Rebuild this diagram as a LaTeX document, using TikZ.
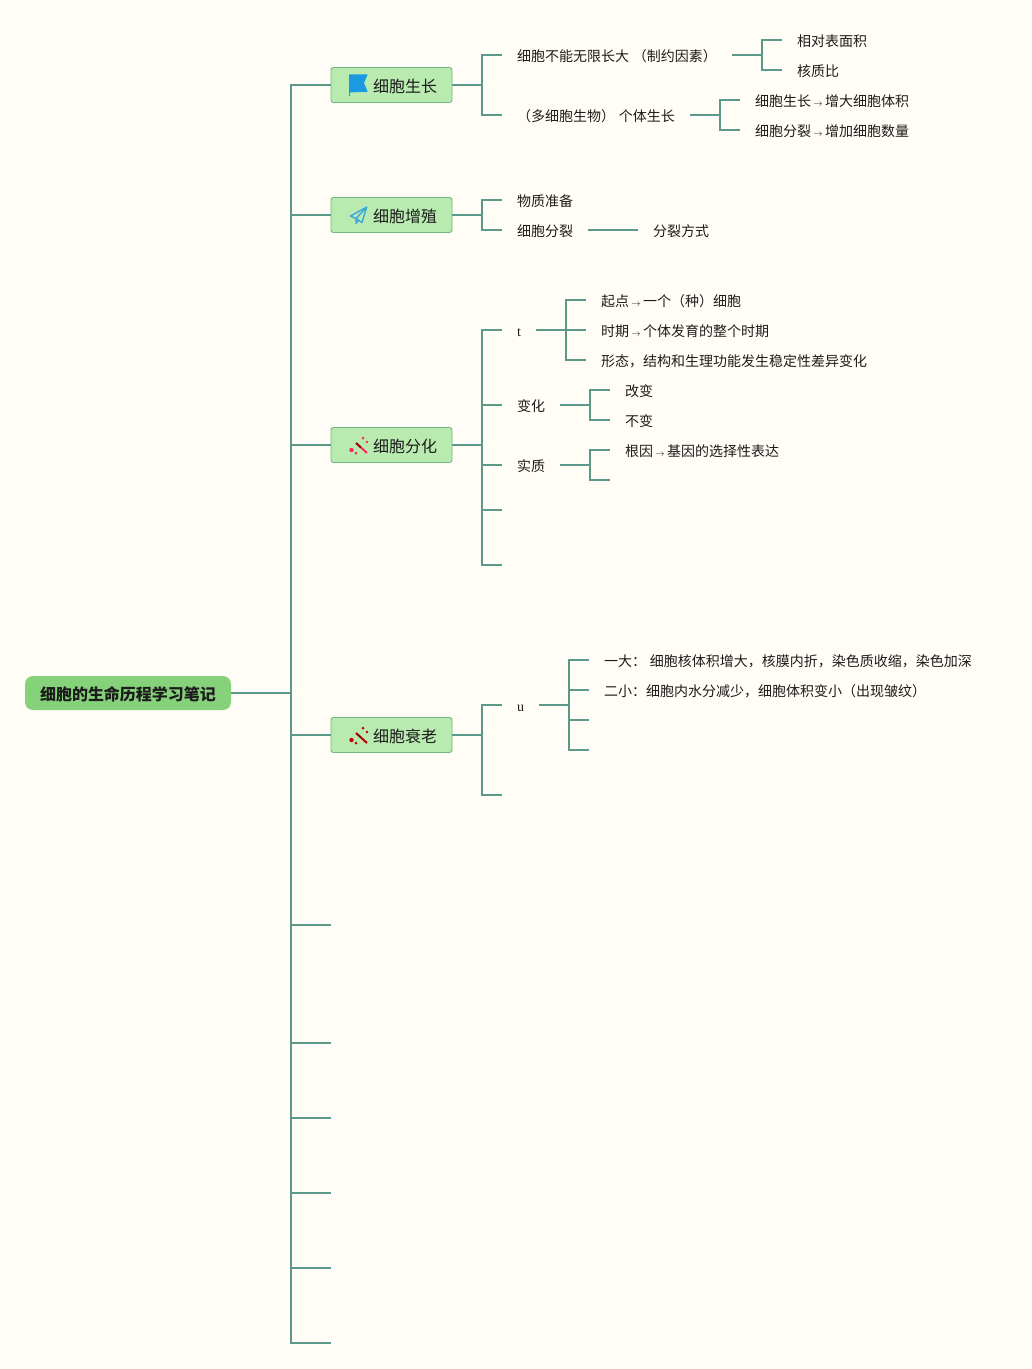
\documentclass[tikz,border=0pt]{standalone}
\usepackage{fontspec}
\setmainfont{Noto Sans CJK SC}
\newfontfamily\latinfont{Liberation Serif}
\usepackage{xcolor}
\usepackage{tikz}
\usetikzlibrary{positioning}
\definecolor{paper}{HTML}{FFFDF5}
\definecolor{linkgreen}{HTML}{5B9A8B}
\definecolor{rootgreen}{HTML}{86D27A}
\definecolor{boxgreen}{HTML}{B9EBB0}
\definecolor{boxline}{HTML}{72B585}
\definecolor{inkgrey}{HTML}{1C1C1C}
\definecolor{flagblue}{HTML}{1A9AE0}
\definecolor{planeblue}{HTML}{3CA6D8}
\newcommand{\toarrow}{\makebox[14pt]{\fontsize{9.5}{9.5}\selectfont$\rightarrow$}}
\newcommand{\wandicon}[3]{%
  \begin{scope}[shift={#1}]
    \draw [#3, line width=2pt] (6,6) -- (11,10.5);
    \draw [#2, line width=2pt] (11,10.5) -- (17,16);
    \fill [#2] (1.5,13) circle (2.2pt);
    \fill [#2] (6,16) circle (1.5pt);
    \fill [#2] (13,1) circle (1.5pt);
    \fill [#2] (17,5) circle (1.3pt);
  \end{scope}}
\tikzset {
  x=1pt, y=-1pt,
  % the connecting lines
  link/.style={linkgreen, line width=2.2pt},
  fork/.style={to path={-- ++(#1,0) |- (\tikztotarget)}},
  fork/.default=30,
  % centre of the map
  root/.style={fill=rootgreen, rounded corners=8pt, minimum width=206pt, minimum height=34pt,
    inner sep=0pt, outer sep=0pt, text=inkgrey, text height=16pt, text depth=1.8pt,
    font=\fontsize{16}{16}\selectfont\bfseries},
  % first level boxes, text pushed right of the icon
  branch/.style={draw=boxline, fill=boxgreen, line width=0.9pt, rounded corners=2.5pt,
    minimum width=121pt, minimum height=35pt, inner sep=0pt, outer sep=0pt, text=inkgrey,
    text height=16pt, text depth=1.8pt,
    font=\fontsize{16}{16}\selectfont, execute at begin node=\hspace*{27pt}},
  % plain text, 15 free on both sides for the lines
  leaf/.style={anchor=west, inner ysep=0pt, inner xsep=0pt, outer xsep=15pt, outer ysep=0pt,
    text height=14pt, text depth=1.4pt, text=inkgrey, font=\fontsize{14}{14}\selectfont},
}
\begin{document}
\begin{tikzpicture}
        \useasboundingbox (0,0) rectangle (1032,1369);
        \fill [paper] (0,0) rectangle (1032,1369);

        \node[root] (root) at (128,693) {细胞的生命历程学习笔记};
        \node[branch] (growth) at (391.5,85) {细胞生长};
        \node[branch] (prolif) at (391.5,215) {细胞增殖};
        \node[branch] (differ) at (391.5,445) {细胞分化};
        \node[branch] (aging) at (391.5,735) {细胞衰老};

        % empty ends of the trunk
        \coordinate (e1) at (331,925);
        \coordinate (e2) at (331,1043);
        \coordinate (e3) at (331,1118);
        \coordinate (e4) at (331,1193);
        \coordinate (e5) at (331,1268);
        \coordinate (e6) at (331,1343);

        \foreach \t in {growth.west, prolif.west, differ.west, aging.west, e1, e2, e3, e4, e5, e6}
          \draw [link] (root.east) to[fork=60] (\t);

        % growth
        \node[leaf] (g1) at (502,55) {细胞不能无限长大\hspace{4pt}（制约因素）};
        \node[leaf] (g2) at (502,115) {（多细胞生物）\hspace{4pt}个体生长};
        \node[leaf] (g11) at (782,40) {相对表面积};
        \node[leaf] (g12) at (782,70) {核质比};
        \node[leaf] (g21) at (740,100) {细胞生长\toarrow 增大细胞体积};
        \node[leaf] (g22) at (740,130) {细胞分裂\toarrow 增加细胞数量};

        \draw [link] (growth.east) to[fork] (g1.west);
        \draw [link] (growth.east) to[fork] (g2.west);
        \draw [link] (g1.east) to[fork] (g11.west);
        \draw [link] (g1.east) to[fork] (g12.west);
        \draw [link] (g2.east) to[fork] (g21.west);
        \draw [link] (g2.east) to[fork] (g22.west);

        % proliferation
        \node[leaf] (p1) at (502,200) {物质准备};
        \node[leaf] (p2) at (502,230) {细胞分裂};
        \node[leaf] (p21) at (638,230) {分裂方式};

        \draw [link] (prolif.east) to[fork] (p1.west);
        \draw [link] (prolif.east) to[fork] (p2.west);
        \draw [link] (p2.east) -- (p21.west);

        % differentiation
        \node[leaf] (d1) at (502,330) {\latinfont\fontsize{14}{14}\selectfont t};
        \node[leaf] (d2) at (502,405) {变化};
        \node[leaf] (d3) at (502,465) {实质};
        \coordinate (d4) at (502,510);
        \coordinate (d5) at (502,565);
        \node[leaf] (d11) at (586,300) {起点\toarrow 一个（种）细胞};
        \node[leaf] (d12) at (586,330) {时期\toarrow 个体发育的整个时期};
        \node[leaf] (d13) at (586,360) {形态，结构和生理功能发生稳定性差异变化};
        \node[leaf] (d21) at (610,390) {改变};
        \node[leaf] (d22) at (610,420) {不变};
        \node[leaf] (d31) at (610,450) {根因\toarrow 基因的选择性表达};
        \coordinate (d32) at (610,480);

        \foreach \t in {d1.west, d2.west, d3.west, d4, d5}
          \draw [link] (differ.east) to[fork] (\t);
        \foreach \t in {d11.west, d12.west, d13.west}
          \draw [link] (d1.east) to[fork] (\t);
        \foreach \t in {d21.west, d22.west}
          \draw [link] (d2.east) to[fork] (\t);
        \foreach \t in {d31.west, d32}
          \draw [link] (d3.east) to[fork] (\t);

        % aging
        \node[leaf] (a1) at (502,705) {\latinfont\fontsize{14}{14}\selectfont u};
        \coordinate (a2) at (502,795);
        \node[leaf] (a11) at (589,660) {一大：\hspace{4pt}细胞核体积增大，核膜内折，染色质收缩，染色加深};
        \node[leaf] (a12) at (589,690) {二小：细胞内水分减少，细胞体积变小（出现皱纹）};
        \coordinate (a13) at (589,720);
        \coordinate (a14) at (589,750);

        \foreach \t in {a1.west, a2}
          \draw [link] (aging.east) to[fork] (\t);
        \foreach \t in {a11.west, a12.west, a13, a14}
          \draw [link] (a1.east) to[fork] (\t);

        % icons
        \fill [flagblue] (349,74.5) -- (367.7,74.3) -- (364,83) -- (367.7,91.7) -- (350,92.5)
          -- (350,96) -- (349,96) -- cycle;
        \draw [planeblue, line width=1.4pt, line join=round] (366.7,207) -- (350.5,216) -- (356,218.5)
          -- (366.7,207) -- (362,222.5) -- (356,218.5) -- (356,223.5) -- (358.5,220);
        \wandicon{(350,437)}{red!75!magenta!85!white}{red!60!black}
        \wandicon{(350,727)}{red!75!black}{red!55!black}
      \end{tikzpicture}
\end{document}
